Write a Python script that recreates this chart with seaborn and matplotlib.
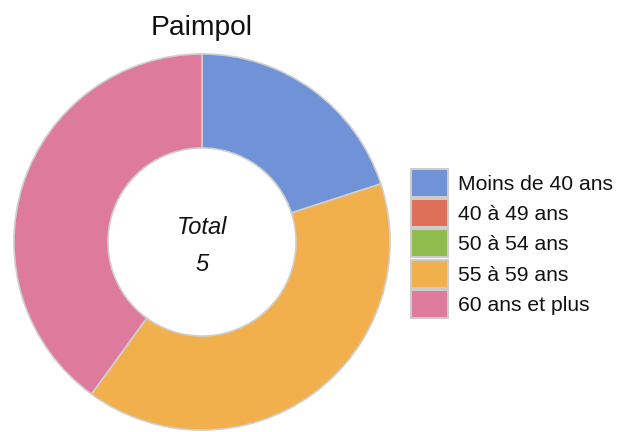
import matplotlib
matplotlib.use("Agg")
import matplotlib.pyplot as plt
from matplotlib.patches import Patch
import seaborn as sns

title = "Paimpol"
categories = ["Moins de 40 ans", "40 à 49 ans", "50 à 54 ans", "55 à 59 ans", "60 ans et plus"]
values = [1, 0, 0, 2, 2]
colors = ["#6f93d6", "#de7059", "#8fbd4d", "#f2b04d", "#de7a9b"]

sns.set_theme(style="white")
plt.rcParams['font.family'] = ['Liberation Sans', 'DejaVu Sans']

W, H = 622, 432
fig = plt.figure(figsize=(W / 100, H / 100), dpi=100)
cx, cy, r = 202, 242, 189
ax = fig.add_axes([(cx - r) / W, (H - cy - r) / H, 2 * r / W, 2 * r / H])

nz = [(v, c) for v, c in zip(values, colors) if v > 0]
ax.pie([v for v, _ in nz], colors=[c for _, c in nz], startangle=90, counterclock=False,
       radius=1, wedgeprops=dict(width=0.5, edgecolor="#cfcfcf", linewidth=1.2))
ax.set_xlim(-1.005, 1.005)
ax.set_ylim(-1.005, 1.005)
ax.set_aspect("equal")
ax.axis("off")

total = sum(values)
ax.text(0, 0.075, "Total", ha="center", va="center", fontsize=17, style="italic", color="#111111")
ax.text(0, -0.12, str(total), ha="center", va="center", fontsize=17, style="italic", color="#111111")

fig.text(cx / W, 1 - 28 / H, title, ha="center", va="center", fontsize=20.3, color="#111111")

handles = [Patch(facecolor=c, edgecolor="#cccccc", linewidth=1.5) for c in colors]
fig.legend(handles, categories, loc="upper left", bbox_to_anchor=(411 / W, 1 - 169 / H),
           frameon=False, fontsize=15.2, handlelength=1.75, handleheight=1.67,
           labelspacing=0.1, handletextpad=0.5, borderpad=0, borderaxespad=0,
           labelcolor="#111111")

fig.savefig("out.png", dpi=100)
